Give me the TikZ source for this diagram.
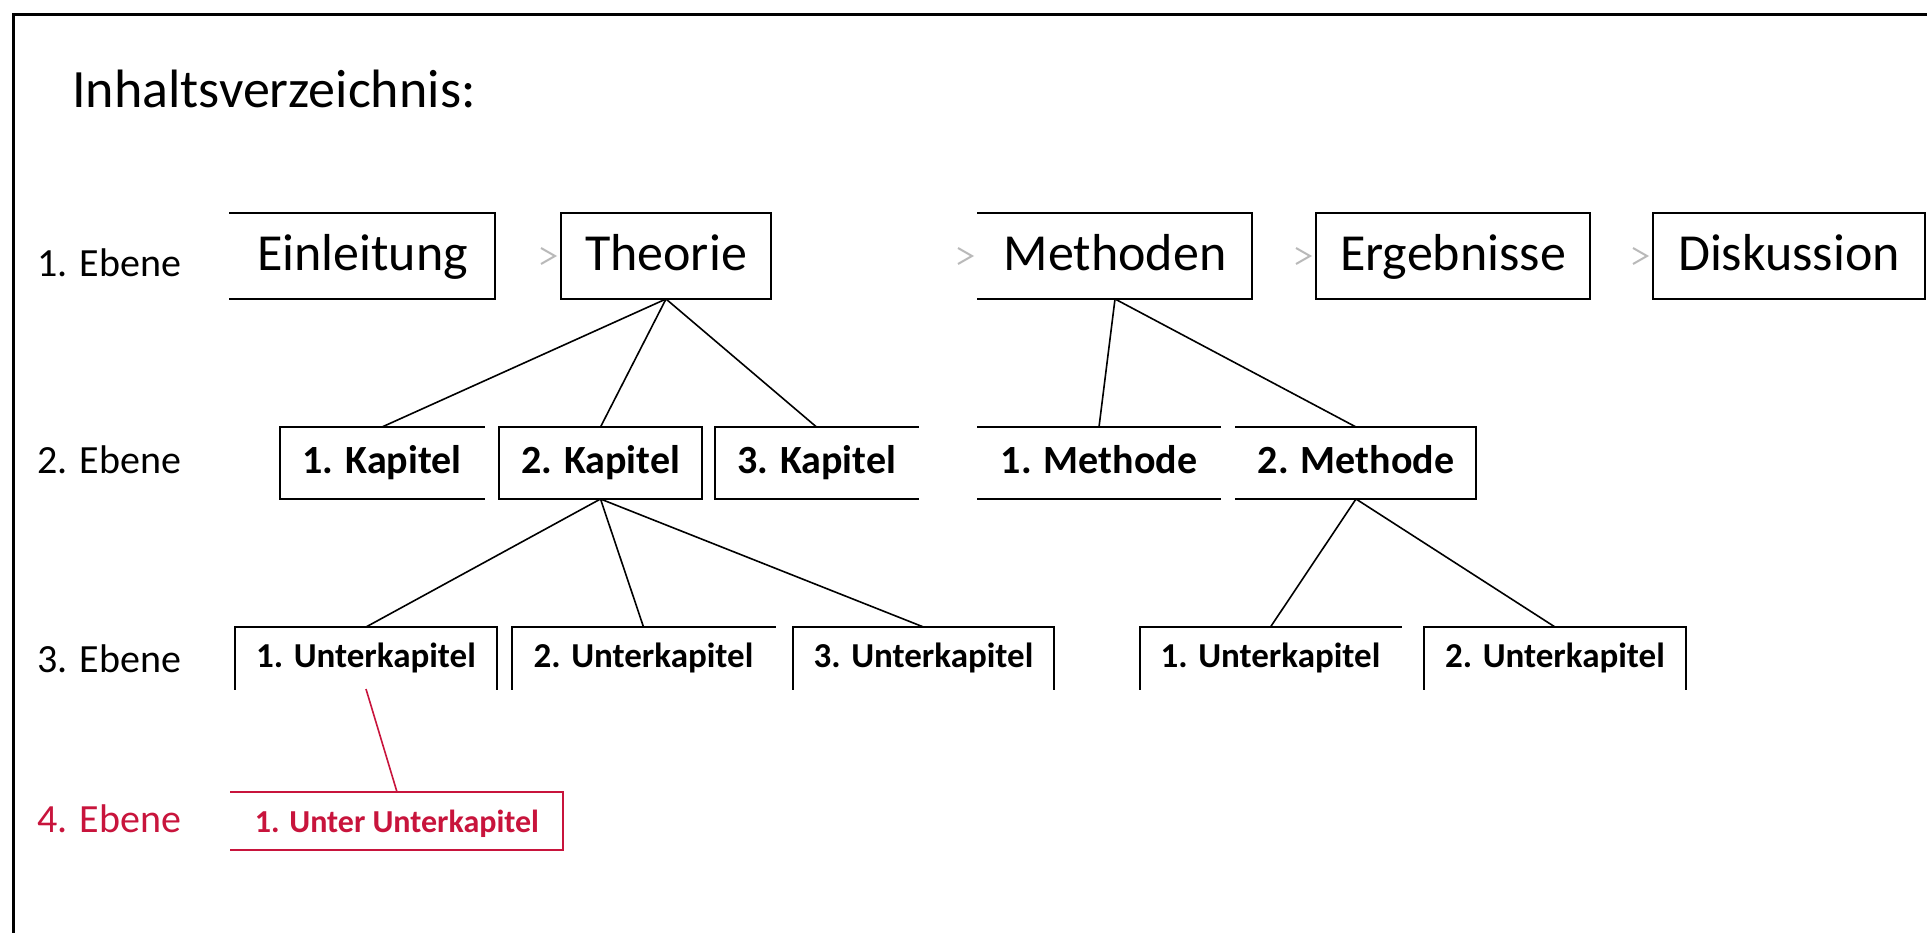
\documentclass[tikz,border=0pt]{standalone}
\usepackage{fontspec}
\setmainfont{Carlito}
\definecolor{ebred}{RGB}{200,20,60}
\definecolor{chevgray}{RGB}{185,185,185}
\begin{document}
\begin{tikzpicture}[x=1pt,y=-1pt,
  cell/.style={rectangle, inner sep=0pt, outer sep=0pt, text depth=0pt},
  lone/.style={cell, minimum height=86pt, text height=30pt, font=\fontsize{52}{60}\selectfont},
  ltwo/.style={cell, minimum height=72pt, text height=20pt, font=\fontsize{40}{48}\selectfont\bfseries},
  lthree/.style={cell, minimum height=62pt, text height=18pt, font=\fontsize{35}{42}\selectfont\bfseries},
  lfour/.style={cell, minimum height=58pt, text height=22pt, font=\fontsize{32}{38}\selectfont\bfseries, text=ebred},
  lbl/.style={anchor=base west, inner sep=0pt, font=\fontsize{40}{48}\selectfont},
  bx/.style={line width=2.6pt, line cap=rect},
  conn/.style={line width=1.6pt},
  chev/.style={line width=2pt, chevgray},
]
\useasboundingbox (0,0) rectangle (1927,933);
\fill[white] (0,0) rectangle (1927,933);
% frame
\draw[line width=3pt] (13,933) -- (13,15) -- (1927,15);
% title
\node[anchor=base west, inner sep=0pt, font=\fontsize{54}{64}\selectfont] (title) at (72,108) {Inhaltsverzeichnis:};
% level labels
\node[lbl] (lab1) at (37,277) {1. Ebene};
\node[lbl] (lab2) at (37,473) {2. Ebene};
\node[lbl] (lab3) at (37,672) {3. Ebene};
\node[lbl, text=ebred] (lab4) at (37,832) {4. Ebene};
% level 1
\node[lone, minimum width=265pt] (ein) at (362.5,256) {Einleitung};
\node[lone, minimum width=210pt] (theo) at (666,256) {Theorie};
\node[lone, minimum width=274pt] (meth) at (1115,256) {Methoden};
\node[lone, minimum width=274pt] (erg) at (1453,256) {Ergebnisse};
\node[lone, minimum width=272pt] (disk) at (1789,256) {Diskussion};
% level 2
\node[ltwo, minimum width=204pt] (k1) at (382,463) {1. Kapitel};
\node[ltwo, minimum width=203pt] (k2) at (600.5,463) {2. Kapitel};
\node[ltwo, minimum width=203pt] (k3) at (816.5,463) {3. Kapitel};
\node[ltwo, minimum width=242pt] (m1) at (1099,463) {1. Methode};
\node[ltwo, minimum width=240pt] (m2) at (1356,463) {2. Methode};
% level 3
\node[lthree, minimum width=262pt] (u1) at (366,658) {1. Unterkapitel};
\node[lthree, minimum width=263pt] (u2) at (643.5,658) {2. Unterkapitel};
\node[lthree, minimum width=261pt] (u3) at (923.5,658) {3. Unterkapitel};
\node[lthree, minimum width=261pt] (r1) at (1270.5,658) {1. Unterkapitel};
\node[lthree, minimum width=262pt] (r2) at (1555,658) {2. Unterkapitel};
% level 4
\node[lfour, minimum width=332pt] (uu) at (397,821) {1. Unter Unterkapitel};
% visible box sides
\draw[bx] (ein.north west) -- (ein.north east) -- (ein.south east) -- (ein.south west);
\draw[bx] (theo.north west) rectangle (theo.south east);
\draw[bx] (meth.north west) -- (meth.north east) -- (meth.south east) -- (meth.south west);
\draw[bx] (erg.north west) rectangle (erg.south east);
\draw[bx] (disk.north west) rectangle (disk.south east);
\draw[bx] (k1.north east) -- (k1.north west) -- (k1.south west) -- (k1.south east);
\draw[bx] (k2.north west) rectangle (k2.south east);
\draw[bx] (k3.north east) -- (k3.north west) -- (k3.south west) -- (k3.south east);
\draw[bx] (m1.north west) -- (m1.north east);
\draw[bx] (m1.south west) -- (m1.south east);
\draw[bx] (m2.north west) -- (m2.north east) -- (m2.south east) -- (m2.south west);
\draw[bx] (u1.south west) -- (u1.north west) -- (u1.north east) -- (u1.south east);
\draw[bx] (u2.south west) -- (u2.north west) -- (u2.north east);
\draw[bx] (u3.south west) -- (u3.north west) -- (u3.north east) -- (u3.south east);
\draw[bx] (r1.south west) -- (r1.north west) -- (r1.north east);
\draw[bx] (r2.south west) -- (r2.north west) -- (r2.north east) -- (r2.south east);
\draw[bx, ebred] (uu.north west) -- (uu.north east) -- (uu.south east) -- (uu.south west);
% chevrons between level-1 boxes
\foreach \b in {theo,meth,erg,disk}{
  \draw[chev] ([xshift=-20pt,yshift=8pt]\b.west) -- ([xshift=-6pt]\b.west) -- ([xshift=-20pt,yshift=-8pt]\b.west);
}
% connectors
\draw[conn] (theo.south) -- (k1.north);
\draw[conn] (theo.south) -- (k2.north);
\draw[conn] (theo.south) -- (k3.north);
\draw[conn] (meth.south) -- (m1.north);
\draw[conn] (meth.south) -- (m2.north);
\draw[conn] (k2.south) -- (u1.north);
\draw[conn] (k2.south) -- (u2.north);
\draw[conn] (k2.south) -- (u3.north);
\draw[conn] (m2.south) -- (r1.north);
\draw[conn] (m2.south) -- (r2.north);
\draw[conn, ebred] (u1.south) -- (uu.north);
\end{tikzpicture}
\end{document}
